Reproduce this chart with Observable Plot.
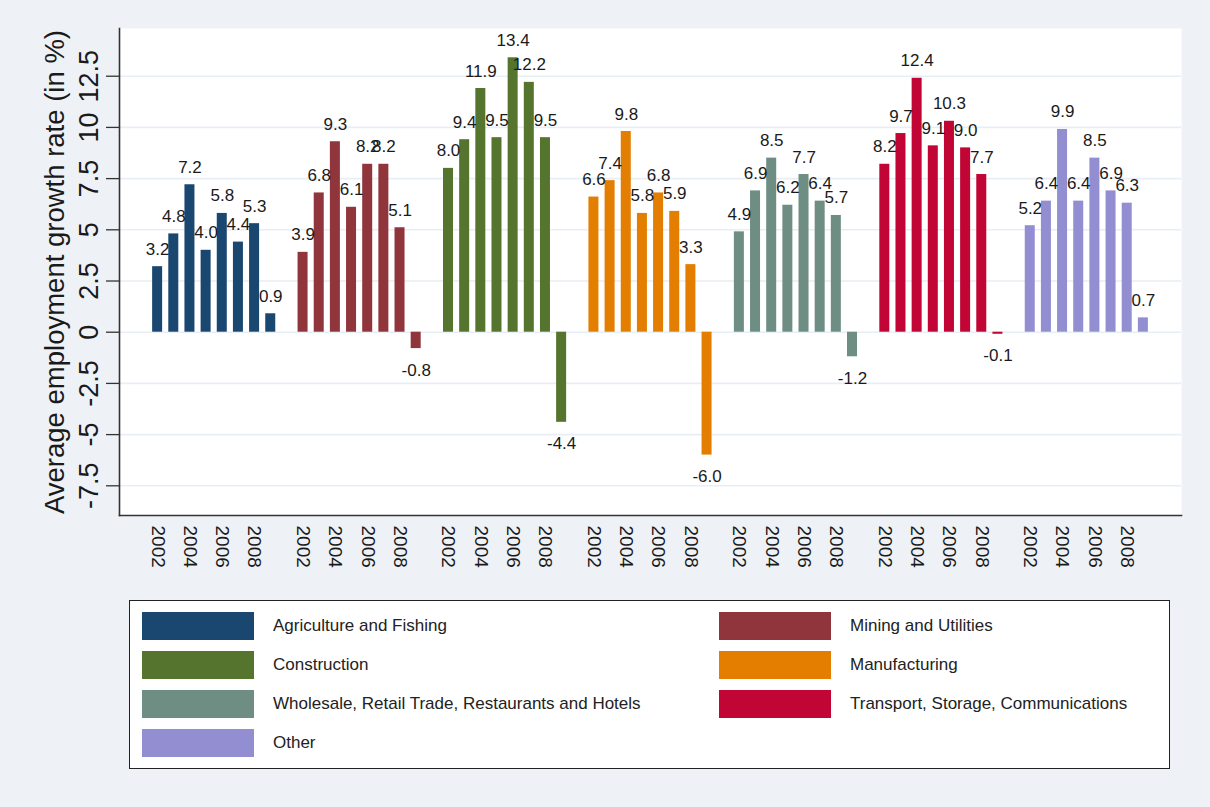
<!DOCTYPE html>
<html><head><meta charset="utf-8">
<script src="https://cdn.jsdelivr.net/npm/d3@7"></script>
<script src="https://cdn.jsdelivr.net/npm/@observablehq/plot@0.6"></script>
<style>
body{margin:0;background:#eef2f7;font-family:"Liberation Sans",Arial,sans-serif;}
#wrap{position:relative;width:1210px;height:807px;background:#eef2f7;overflow:hidden;}
#chart{position:absolute;left:0;top:0;}
#legend{position:absolute;left:129px;top:600px;width:1039px;height:167px;border:1.5px solid #222;background:#fff;}
.item{position:absolute;height:28px;}
.sw{position:absolute;left:0;top:0;width:112px;height:28px;}
.lab{position:absolute;left:131px;top:0;line-height:28px;font-size:17px;color:#222;white-space:nowrap;}
</style></head><body><div id="wrap"><div id="chart"></div><div id="legend"></div></div>
<script>
const sectors = ["Agriculture and Fishing","Mining and Utilities","Construction","Manufacturing","Wholesale, Retail Trade, Restaurants and Hotels","Transport, Storage, Communications","Other"];
const colors = ["#1a476f","#90353b","#55752f","#e37e00","#6e8e84","#c10534","#938dd2"];
const years = [2002,2003,2004,2005,2006,2007,2008,2009];
const agriculture = [3.2,4.8,7.2,4.0,5.8,4.4,5.3,0.9];
const mining = [3.9,6.8,9.3,6.1,8.2,8.2,5.1,-0.8];
const construction = [8.0,9.4,11.9,9.5,13.4,12.2,9.5,-4.4];
const manufacturing = [6.6,7.4,9.8,5.8,6.8,5.9,3.3,-6.0];
const wholesale = [4.9,6.9,8.5,6.2,7.7,6.4,5.7,-1.2];
const transport = [8.2,9.7,12.4,9.1,10.3,9.0,7.7,-0.1];
const other = [5.2,6.4,9.9,6.4,8.5,6.9,6.3,0.7];
const tickYears = [2002,2004,2006,2008];
const yTicks = [-7.5,-5,-2.5,0,2.5,5,7.5,10,12.5];
const yTitle = "Average employment growth rate (in %)";

const series = [agriculture,mining,construction,manufacturing,wholesale,transport,other];
const rows = [];
const keys = [];
sectors.forEach((s,i)=>{
  if(i>0) keys.push("gap"+i);
  years.forEach((y,j)=>{
    const key = s+"|"+y;
    keys.push(key);
    rows.push({sector:s, year:y, key, value:series[i][j]});
  });
});
const tickKeys = keys.filter(k=>k.includes("|") && tickYears.includes(+k.split("|")[1]));
const fmt = v => v.toFixed(1);

const chart = Plot.plot({
  width:1210, height:590,
  marginLeft:119, marginRight:29, marginTop:28, marginBottom:75,
  style:{background:"transparent", fontFamily:"'Liberation Sans', Arial, sans-serif", color:"#1a1a1a", overflow:"visible"},
  x:{type:"band", domain:keys, paddingInner:0.381, paddingOuter:2.05, round:false},
  y:{domain:[-8.95,14.83]},
  color:{domain:sectors, range:colors},
  marks:[
    Plot.frame({fill:"white", stroke:null}),
    Plot.gridY(yTicks, {stroke:"#e8eef5", strokeOpacity:1, strokeWidth:1.6}),
    Plot.barY(rows, {x:"key", y:"value", fill:"sector"}),
    Plot.text(rows.filter(d=>d.value>=0), {x:"key", y:"value", text:d=>fmt(d.value), lineAnchor:"bottom", dy:-12, fontSize:17, fill:"#1a1a1a"}),
    Plot.text(rows.filter(d=>d.value<0), {x:"key", y:"value", text:d=>fmt(d.value), lineAnchor:"top", dy:15, fontSize:17, fill:"#1a1a1a"}),
    Plot.axisY({ticks:yTicks, tickFormat:d=>String(d), tickSize:13, tickPadding:9, tickRotate:-90, fontSize:27, label:null, stroke:"#333", strokeWidth:1.3}),
    Plot.axisX({ticks:tickKeys, tickFormat:k=>k.split("|")[1], tickSize:0, tickPadding:10, tickRotate:90, fontSize:19, label:null}),
    Plot.frame({anchor:"left", stroke:"#333", strokeWidth:1.6}),
    Plot.frame({anchor:"bottom", stroke:"#333", strokeWidth:1.6}),
    Plot.text([yTitle], {frameAnchor:"left", rotate:-90, dx:-56, textAnchor:"middle", lineAnchor:"bottom", fontSize:27.5, fill:"#1a1a1a"})
  ]
});
document.getElementById("chart").appendChild(chart);

const legend = document.getElementById("legend");
sectors.forEach((s,i)=>{
  const r = Math.floor(i/2), c = i%2;
  const item = document.createElement("div");
  item.className = "item";
  item.style.left = (c===0 ? 12 : 589) + "px";
  item.style.top = (10.5 + 39*r) + "px";
  item.innerHTML = `<div class="sw" style="background:${colors[i]}"></div><div class="lab">${s}</div>`;
  legend.appendChild(item);
});
</script></body></html>
